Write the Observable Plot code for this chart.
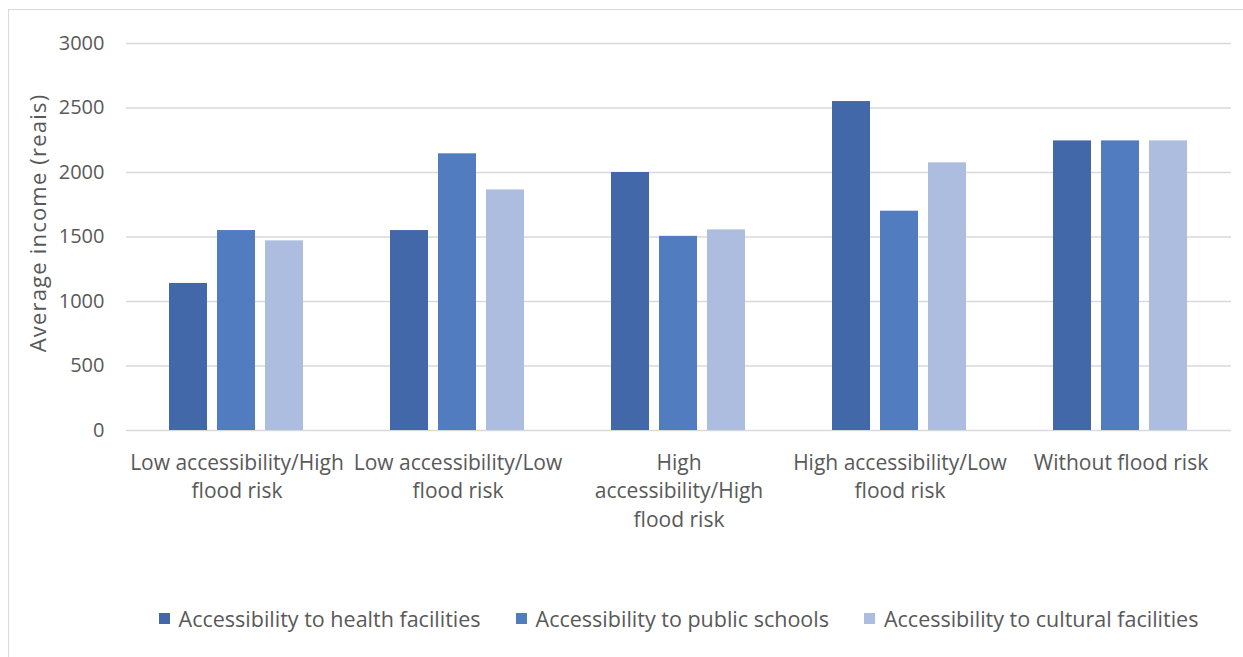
<!DOCTYPE html>
<html>
<head>
<meta charset="utf-8">
<script src="https://cdn.jsdelivr.net/npm/d3@7"></script>
<script src="https://cdn.jsdelivr.net/npm/@observablehq/plot@0.6"></script>
<style>
  body { margin: 0; width: 1243px; height: 657px; overflow: hidden; background: #fff; font-family: "Open Sans", sans-serif; position: relative; }
  #frame { position: absolute; left: 8px; top: 9px; width: 1300px; height: 700px; border: 1.5px solid #d9d9d9; }
  #chart { position: absolute; left: 0; top: 0; }
  #ylabel { position: absolute; left: 37px; top: 223px; transform: translate(-50%, -50%) rotate(-90deg); white-space: nowrap; font-size: 22px; letter-spacing: 1.2px; color: #595959; }
  #legend { position: absolute; left: 125px; width: 1107px; top: 604px; display: flex; justify-content: center; gap: 35px; font-size: 21.5px; color: #595959; }
  #legend .item { display: flex; align-items: center; }
  #legend .sw { width: 11px; height: 11px; margin-right: 9px; }
</style>
</head>
<body>
<div id="frame"></div>
<div id="chart"></div>
<div id="ylabel"></div>
<div id="legend"></div>
<script>
const categories = [
  "Low accessibility/High flood risk",
  "Low accessibility/Low flood risk",
  "High accessibility/High flood risk",
  "High accessibility/Low flood risk",
  "Without flood risk"
];
const categoryLabels = [
  "Low accessibility/High\nflood risk",
  "Low accessibility/Low\nflood risk",
  "High\naccessibility/High\nflood risk",
  "High accessibility/Low\nflood risk",
  "Without flood risk"
];
const series = [
  "Accessibility to health facilities",
  "Accessibility to public schools",
  "Accessibility to cultural facilities"
];
const health   = [1140, 1550, 2000, 2550, 2245];
const schools  = [1550, 2145, 1505, 1700, 2245];
const cultural = [1470, 1865, 1555, 2075, 2245];
const colors = ["#4268a9", "#517cbf", "#adbddf"];
const yTicks = [0, 500, 1000, 1500, 2000, 2500, 3000];
const yLabel = "Average income (reais)";

const seriesValues = [health, schools, cultural];
const data = [];
categories.forEach((c, i) => {
  series.forEach((s, j) => data.push({category: c, series: s, value: seriesValues[j][i]}));
});
const labelOf = new Map(categories.map((c, i) => [c, categoryLabels[i]]));

const chart = Plot.plot({
  width: 1243,
  height: 545,
  marginLeft: 125,
  marginRight: 11,
  marginTop: 43,
  marginBottom: 115,
  style: {fontFamily: "'Open Sans', sans-serif", color: "#595959", background: "transparent"},
  fx: {domain: categories, padding: 0, label: null},
  x: {domain: series, paddingInner: 0.2, paddingOuter: 0.857, axis: null},
  y: {domain: [0, 3000], label: null},
  color: {domain: series, range: colors},
  marks: [
    Plot.gridY(yTicks, {stroke: "#d9d9d9", strokeOpacity: 1, strokeWidth: 1.5}),
    Plot.axisY(yTicks, {tickSize: 0, tickPadding: 22, fontSize: 20, fill: "#595959", label: null, tickFormat: d => String(d)}),
    Plot.axisFx({anchor: "bottom", tickSize: 0, tickPadding: 19, fontSize: 21, fill: "#595959", lineHeight: 1.36, tickFormat: d => labelOf.get(d), label: null}),
    Plot.barY(data, {fx: "category", x: "series", y: "value", fill: "series"})
  ]
});
document.getElementById("chart").appendChild(chart);
document.getElementById("ylabel").textContent = yLabel;

const legend = document.getElementById("legend");
series.forEach((s, j) => {
  const item = document.createElement("div");
  item.className = "item";
  const sw = document.createElement("span");
  sw.className = "sw";
  sw.style.background = colors[j];
  const t = document.createElement("span");
  t.textContent = s;
  item.appendChild(sw);
  item.appendChild(t);
  legend.appendChild(item);
});
</script>
</body>
</html>
